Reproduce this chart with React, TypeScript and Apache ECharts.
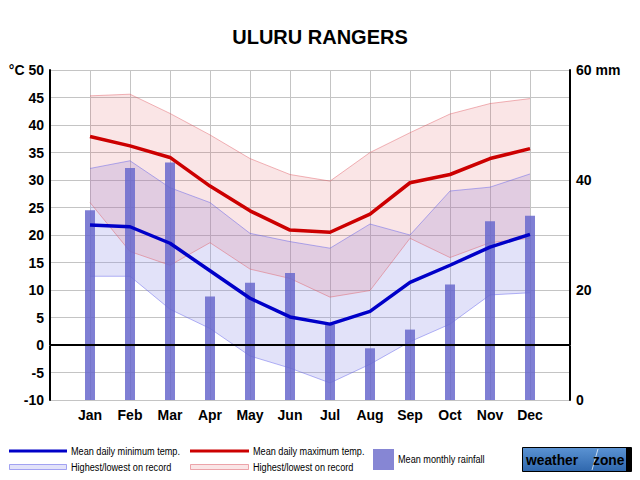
import React, { useEffect, useRef } from "react";
import * as echarts from "echarts";

const months = ["Jan", "Feb", "Mar", "Apr", "May", "Jun", "Jul", "Aug", "Sep", "Oct", "Nov", "Dec"];
const meanMax = [37.9, 36.2, 34.1, 28.9, 24.4, 20.9, 20.5, 23.8, 29.5, 31.0, 33.9, 35.7];
const meanMin = [21.8, 21.5, 18.5, 13.5, 8.5, 5.1, 3.8, 6.1, 11.4, 14.5, 17.8, 20.1];
const recordHighMax = [45.3, 45.6, 42.1, 38.2, 33.9, 31.0, 29.8, 35.0, 38.6, 42.0, 43.9, 44.8];
const recordLowMax = [25.9, 17.0, 14.5, 18.6, 13.8, 12.1, 8.7, 9.9, 19.4, 15.9, 18.6, 19.4];
const recordHighMin = [32.1, 33.5, 28.6, 25.9, 20.3, 18.8, 17.6, 22.0, 20.0, 28.0, 28.7, 31.1];
const recordLowMin = [12.5, 12.5, 6.5, 3.0, -2.0, -4.2, -6.9, -3.5, 0.6, 3.8, 9.1, 9.5];
const rainfall = [34.5, 42.2, 43.2, 18.8, 21.3, 23.1, 13.7, 9.4, 12.8, 21.0, 32.5, 33.5];

const FONT = "'Liberation Sans', Arial, Helvetica, sans-serif";

// one empty slot at each end so months sit one step inside the plot edges
const cats = ["", ...months, ""];
const pad = (arr: (number | null)[]) => [null, ...arr, null];
const diff = (hi: number[], lo: number[]) => hi.map((v, i) => +(v - lo[i]).toFixed(2));

export default function App() {
  const ref = useRef<HTMLDivElement>(null);
  useEffect(() => {
    if (!ref.current) return;
    const chart = echarts.init(ref.current, null, { renderer: "svg" });
    const blueEdge = "rgba(90,90,235,0.45)";
    const redEdge = "rgba(225,90,100,0.45)";
    const legText = (x: number, y: number, text: string) => ({
      type: "text",
      x,
      y,
      scaleX: 0.83,
      style: { text, font: `11px ${FONT}`, fill: "#000", verticalAlign: "middle" },
    });
    chart.setOption({
      animation: false,
      backgroundColor: "#ffffff",
      grid: { left: 50, right: 70, top: 70, bottom: 80 },
      xAxis: {
        type: "category",
        data: cats,
        boundaryGap: false,
        axisLine: { show: true, lineStyle: { color: "#c8c8c8", width: 1 } },
        axisTick: { show: false },
        splitLine: { show: true, interval: 0, lineStyle: { color: "#c4c4c4", width: 1 } },
        axisLabel: {
          color: "#000",
          fontFamily: FONT,
          fontWeight: "bold",
          fontSize: 14,
          margin: 8,
          interval: 0,
        },
      },
      yAxis: [
        {
          type: "value",
          min: -10,
          max: 50,
          interval: 5,
          axisLine: { show: true, lineStyle: { color: "#000", width: 2 } },
          axisTick: { show: false },
          splitLine: { show: true, lineStyle: { color: "#c4c4c4", width: 1 } },
          axisLabel: {
            color: "#000",
            fontFamily: FONT,
            fontWeight: "bold",
            fontSize: 14,
            margin: 6,
            formatter: (v: number) => (v === 50 ? "°C 50" : String(v)),
          },
        },
        {
          type: "value",
          min: 0,
          max: 60,
          interval: 20,
          position: "right",
          axisLine: { show: true, lineStyle: { color: "#000", width: 2 } },
          axisTick: { show: false },
          splitLine: { show: false },
          axisLabel: {
            color: "#000",
            fontFamily: FONT,
            fontWeight: "bold",
            fontSize: 14,
            margin: 6,
            formatter: (v: number) => (v === 60 ? "60 mm" : String(v)),
          },
        },
      ],
      series: [
        {
          type: "line",
          name: "lowMin",
          data: pad(recordLowMin),
          stack: "blue",
          stackStrategy: "all",
          symbol: "none",
          lineStyle: { color: blueEdge, width: 1 },
          z: 1,
        },
        {
          type: "line",
          name: "highMin",
          data: pad(diff(recordHighMin, recordLowMin)),
          stack: "blue",
          stackStrategy: "all",
          symbol: "none",
          lineStyle: { color: blueEdge, width: 1 },
          areaStyle: { color: "rgba(140,140,230,0.25)", opacity: 1 },
          z: 1,
        },
        {
          type: "line",
          name: "lowMax",
          data: pad(recordLowMax),
          stack: "red",
          stackStrategy: "all",
          symbol: "none",
          lineStyle: { color: redEdge, width: 1 },
          z: 1,
        },
        {
          type: "line",
          name: "highMax",
          data: pad(diff(recordHighMax, recordLowMax)),
          stack: "red",
          stackStrategy: "all",
          symbol: "none",
          lineStyle: { color: redEdge, width: 1 },
          areaStyle: { color: "rgba(220,80,90,0.15)", opacity: 1 },
          z: 1,
        },
        {
          type: "bar",
          name: "rain",
          yAxisIndex: 1,
          data: pad(rainfall),
          barWidth: 10,
          itemStyle: { color: "rgba(105,105,205,0.85)" },
          z: 2,
        },
        {
          type: "line",
          name: "meanMax",
          data: pad(meanMax),
          symbol: "none",
          lineStyle: { color: "#cc0000", width: 3.5 },
          z: 4,
        },
        {
          type: "line",
          name: "meanMin",
          data: pad(meanMin),
          symbol: "none",
          lineStyle: { color: "#0000c8", width: 3.5 },
          z: 4,
          markLine: {
            silent: true,
            symbol: "none",
            label: { show: false },
            lineStyle: { color: "#000", width: 2, type: "solid" },
            data: [{ yAxis: 0 }],
          },
        },
      ],
      graphic: [
        {
          type: "text",
          left: "center",
          top: 27,
          style: { text: "ULURU RANGERS", font: `bold 20px ${FONT}`, fill: "#000" },
        },
        // legend
        { type: "line", shape: { x1: 9, y1: 451, x2: 67, y2: 451 }, style: { stroke: "#0000c8", lineWidth: 3 } },
        legText(71, 451, "Mean daily minimum temp."),
        { type: "rect", shape: { x: 9.5, y: 464.5, width: 57, height: 5 }, style: { fill: "rgba(140,140,230,0.25)", stroke: "rgba(110,110,235,0.6)", lineWidth: 1 } },
        legText(71, 467, "Highest/lowest on record"),
        { type: "line", shape: { x1: 190, y1: 451, x2: 249, y2: 451 }, style: { stroke: "#cc0000", lineWidth: 3 } },
        legText(253, 451, "Mean daily maximum temp."),
        { type: "rect", shape: { x: 190.5, y: 464.5, width: 58, height: 5 }, style: { fill: "rgba(220,80,90,0.15)", stroke: "rgba(225,110,120,0.6)", lineWidth: 1 } },
        legText(253, 467, "Highest/lowest on record"),
        { type: "rect", shape: { x: 373, y: 449, width: 21, height: 21 }, style: { fill: "#8686d4" } },
        legText(398, 459, "Mean monthly rainfall"),
        // logo
        {
          type: "rect",
          shape: { x: 522.5, y: 447.5, width: 109, height: 24 },
          style: {
            fill: new echarts.graphic.LinearGradient(0, 0, 0, 1, [
              { offset: 0, color: "#5b93d3" },
              { offset: 1, color: "#2f67ad" },
            ]),
            stroke: "#000",
            lineWidth: 1,
          },
        },
        { type: "rect", shape: { x: 626, y: 448, width: 5, height: 23 }, style: { fill: "#000" } },
        { type: "line", shape: { x1: 592, y1: 470, x2: 598, y2: 449 }, style: { stroke: "rgba(255,255,255,0.7)", lineWidth: 1 } },
        { type: "text", x: 526, y: 460, scaleX: 0.92, style: { text: "weather", font: `bold 15px ${FONT}`, fill: "#000", verticalAlign: "middle" } },
        { type: "text", x: 593, y: 460, scaleX: 0.92, style: { text: "zone", font: `bold 15px ${FONT}`, fill: "#000", verticalAlign: "middle" } },
      ],
    });
    return () => chart.dispose();
  }, []);
  return <div ref={ref} style={{ position: "fixed", left: 0, top: 0, width: 640, height: 480 }} />;
}
